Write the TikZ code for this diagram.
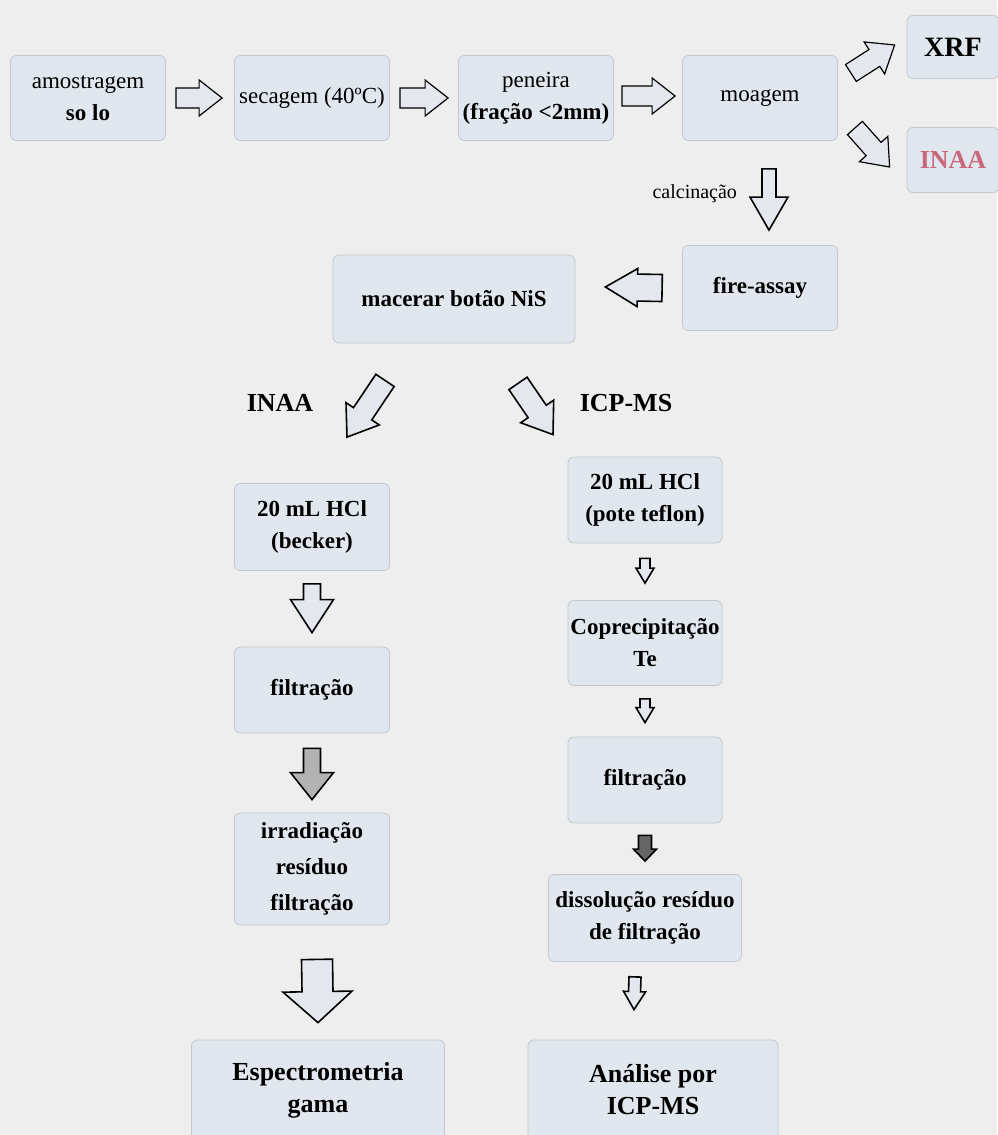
\documentclass[tikz,border=0pt]{standalone}
\usepackage{fontspec}
\setmainfont{Liberation Serif}
\usepackage{tikz}
\usetikzlibrary{positioning, calc}

\definecolor{bggray}{HTML}{EEEEEE}
\definecolor{boxfill}{HTML}{E1E7EE}
\definecolor{boxline}{HTML}{C3C8CE}
\definecolor{arrowfill}{HTML}{E4E8EE}
\definecolor{inaared}{HTML}{C8687A}

\tikzset{
  box/.style={rectangle, rounded corners=3pt, draw=boxline, fill=boxfill, align=center,
    minimum width=77.5pt, minimum height=42.5pt, inner sep=1pt,
    font=\fontsize{11.5}{16}\selectfont\bfseries},
  tag/.style={font=\fontsize{13}{15}\selectfont\bfseries},
  blockarr/.style={draw=black, fill=arrowfill, line width=0.8pt, line join=miter},
}

% block arrow: [options]{from}{to}{shaft half width}{head half width}{head length}
\newcommand{\fatarrow}[6][]{%
  \path[blockarr,#1] let \p1=#2, \p2=#3,
      \n1={atan2(\y2-\y1,\x2-\x1)}, \n2={veclen(\x2-\x1,\y2-\y1)} in
    ($(\p1)+(\n1+90:#4)$)
    -- ($(\p1)+(\n1:{\n2-#6})+(\n1+90:#4)$)
    -- ($(\p1)+(\n1:{\n2-#6})+(\n1+90:#5)$)
    -- (\p2)
    -- ($(\p1)+(\n1:{\n2-#6})+(\n1-90:#5)$)
    -- ($(\p1)+(\n1:{\n2-#6})+(\n1-90:#4)$)
    -- ($(\p1)+(\n1-90:#4)$) -- cycle;}

\begin{document}
\begin{tikzpicture}[x=0.5pt, y=-0.5pt, node distance=112pt]
  \fill[bggray] (0,0) rectangle (997,1135);
  \useasboundingbox (0,0) rectangle (997,1135);

  % preparo da amostra
  \node[box] (amost) at (88,98) {{\mdseries amostragem}\\so lo};
  \node[box] (secag) [right of=amost] {\mdseries secagem (40ºC)};
  \node[box] (pen) [right of=secag] {{\mdseries peneira}\\(fração <2mm)};
  \node[box] (moag) [right of=pen] {\mdseries moagem};
  \node[box, minimum width=46pt, minimum height=31.5pt, font=\fontsize{14}{16}\selectfont\bfseries] (xrf) at (953,47) {XRF};
  \node[box, minimum width=46pt, minimum height=32.5pt, text=inaared, font=\fontsize{13}{16}\selectfont\bfseries] (inaa) at (953,160) {INAA};

  % fire-assay
  \node[box] (fire) at (760,288) {fire-assay};
  \node[box, minimum width=121pt, minimum height=44pt] (macer) at (454,299) {macerar botão NiS};
  \node[font=\fontsize{10}{12}\selectfont, anchor=east] (tcalc) at ($(moag.south)+(-16,53)$) {calcinação};
  \node[tag] (tinaa) at (280,403) {INAA};
  \node[tag] (ticp) at (626,403) {ICP-MS};

  % ramo INAA
  \node[box, minimum height=43.5pt] (becker) at (312,527) {20 mL HCl\\(becker)};
  \node[box, minimum height=43pt] (filtL) at (312,690) {filtração};
  \node[box, minimum height=56pt, font=\fontsize{11.5}{18}\selectfont\bfseries] (irrad) at (312,869) {irradiação\\resíduo\\filtração};
  \node[box, minimum width=126.5pt, minimum height=50pt, font=\fontsize{13}{16}\selectfont\bfseries] (espec) at (318,1090) {Espectrometria\\gama};

  % ramo ICP-MS
  \node[box, minimum width=77pt, minimum height=43pt] (teflon) at (645,500) {20 mL HCl\\(pote teflon)};
  \node[box, minimum width=77pt] (copre) at (645,643) {Coprecipitação\\Te};
  \node[box, minimum width=77pt, minimum height=43pt] (filtR) at (645,780) {filtração};
  \node[box, minimum width=96.5pt, minimum height=43.5pt] (dissol) at (645,918) {dissolução resíduo\\de filtração};
  \node[box, minimum width=125pt, minimum height=50pt, font=\fontsize{13}{16}\selectfont\bfseries] (analise) at (653,1090) {Análise por\\ICP-MS};

  % setas
  \fatarrow[line width=0.6pt]{($(amost.east)+(10,0)$)}{($(secag.west)+(-12,0)$)}{5pt}{9pt}{11.5pt}
  \fatarrow[line width=0.6pt]{($(secag.east)+(10,0)$)}{($(pen.west)+(-10,0)$)}{5pt}{9pt}{11.5pt}
  \fatarrow[line width=0.6pt]{($(pen.east)+(8,-2)$)}{($(moag.west)+(-7,-2)$)}{5pt}{9pt}{11.5pt}
  \fatarrow[line width=0.6pt]{($(moag.east)+(13,-25)$)}{($(xrf.west)+(-12,-2)$)}{5pt}{9.5pt}{12pt}
  \fatarrow[line width=0.6pt]{($(moag.east)+(17,30)$)}{($(inaa.west)+(-17,7)$)}{5pt}{9.5pt}{12pt}
  \fatarrow{($(moag.south)+(9,28)$)}{($(fire.north)+(9,-15)$)}{3.5pt}{9.5pt}{16.5pt}
  \fatarrow{($(fire.west)+(-20,0)$)}{($(macer.east)+(30,-12)$)}{6.75pt}{9.5pt}{16pt}
  \fatarrow{($(macer.south)+(-69,37)$)}{($(becker.north)+(35,-46)$)}{5.5pt}{10pt}{14pt}
  \fatarrow{($(macer.south)+(64,40)$)}{($(teflon.north)+(-92,-22)$)}{5.5pt}{10pt}{14pt}

  \fatarrow{($(becker.south)+(0,13)$)}{($(filtL.north)+(0,-14)$)}{4.25pt}{10.75pt}{16.5pt}
  \fatarrow[fill=gray!60]{($(filtL.south)+(0,15)$)}{($(irrad.north)+(0,-13)$)}{4.25pt}{10.75pt}{13.5pt}
  \fatarrow{($(irrad.south)+(5,34)$)}{($(espec.north)+(0,-17)$)}{7.75pt}{17.25pt}{15.5pt}

  \fatarrow{($(teflon.south)+(0,15)$)}{($(copre.north)+(0,-17)$)}{2.5pt}{4.5pt}{7.5pt}
  \fatarrow{($(copre.south)+(0,13)$)}{($(filtR.north)+(0,-14)$)}{2.5pt}{4.5pt}{7.5pt}
  \fatarrow[fill=gray!80!black]{($(filtR.south)+(0,12)$)}{($(dissol.north)+(0,-13)$)}{3.25pt}{5.75pt}{6pt}
  \fatarrow{($(dissol.south)+(-10,15)$)}{($(analise.north)+(-19,-30)$)}{3pt}{5.5pt}{9pt}
\end{tikzpicture}
\end{document}
